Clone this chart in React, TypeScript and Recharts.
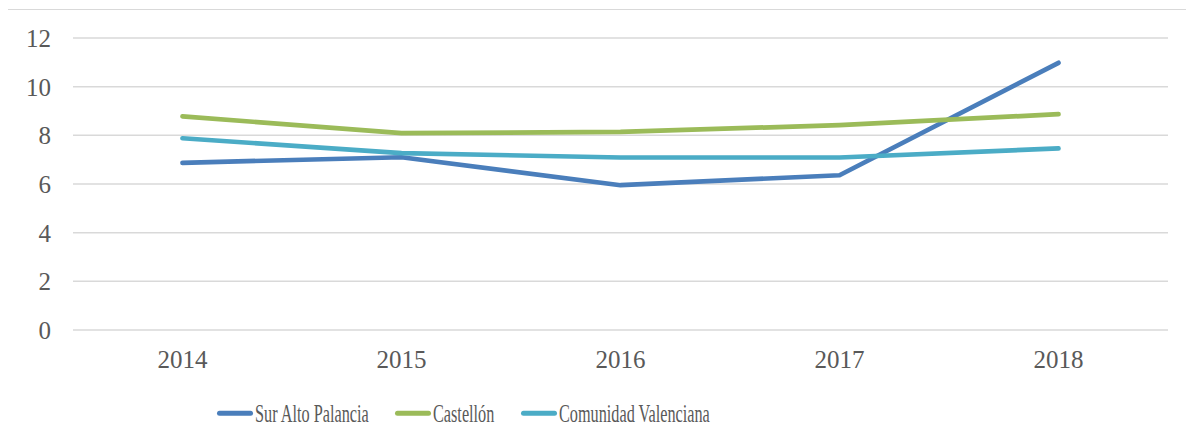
import React from 'react';
import { LineChart, Line, XAxis, YAxis, CartesianGrid, Legend } from 'recharts';

const years = ['2014', '2015', '2016', '2017', '2018'];
const surAltoPalancia = [6.87, 7.1, 5.95, 6.36, 10.98];
const castellon = [8.78, 8.09, 8.14, 8.42, 8.87];
const comunidadValenciana = [7.88, 7.27, 7.09, 7.09, 7.46];
const yTicks = [0, 2, 4, 6, 8, 10, 12];

const seriesNames = ['Sur Alto Palancia', 'Castellón', 'Comunidad Valenciana'];
const seriesKeys = ['sur', 'cas', 'com'];
const seriesColors = ['#4A7EBB', '#9BBB59', '#4BACC6'];

const data = years.map((y, i) => ({
  year: y,
  sur: surAltoPalancia[i],
  cas: castellon[i],
  com: comunidadValenciana[i],
}));

const legendX = [209, 387, 513];
const FONT = '"Liberation Serif", "DejaVu Serif", serif';
const TEXT = '#595959';

const LegendContent = () => (
  <svg width={1186} height={30} style={{ display: 'block' }}>
    {seriesNames.map((name, i) => (
      <g key={name}>
        <line
          x1={legendX[i] + 2.5}
          x2={legendX[i] + 33.5}
          y1={15.3}
          y2={15.3}
          stroke={seriesColors[i]}
          strokeWidth={5}
          strokeLinecap="round"
        />
        <text
          transform={`translate(${legendX[i] + 38}, 23.7) scale(0.65, 1)`}
          fontFamily={FONT}
          fontSize={25}
          fill={TEXT}
        >
          {name}
        </text>
      </g>
    ))}
  </svg>
);

export default function App() {
  return (
    <div
      style={{
        position: 'relative',
        left: -1,
        top: 1,
        width: 1187,
        height: 434,
        boxSizing: 'border-box',
        borderTop: '1px solid #d9d9d9',
        borderLeft: '1px solid #d9d9d9',
        background: '#fff',
        fontFamily: FONT,
      }}
    >
      <LineChart
        width={1186}
        height={433}
        data={data}
        margin={{ top: 28, right: 26, bottom: 15, left: 0 }}
        style={{ fontFamily: FONT }}
      >
        <CartesianGrid vertical={false} stroke="#d9d9d9" strokeWidth={1.5} />
        <XAxis
          dataKey="year"
          axisLine={false}
          tickLine={false}
          tickSize={0}
          tickMargin={20}
          height={68}
          padding={{ left: 109.5, right: 109.5 }}
          tick={{ fontFamily: FONT, fontSize: 25, fill: TEXT }}
        />
        <YAxis
          domain={[0, 12]}
          ticks={yTicks}
          axisLine={false}
          tickLine={false}
          tickSize={0}
          tickMargin={22}
          width={65}
          tick={{ fontFamily: FONT, fontSize: 25, fill: TEXT }}
        />
        <Legend
          verticalAlign="bottom"
          content={<LegendContent />}
          wrapperStyle={{ left: 0, bottom: 15, width: 1186, height: 30 }}
        />
        {seriesKeys.map((k, i) => (
          <Line
            key={k}
            type="linear"
            dataKey={k}
            name={seriesNames[i]}
            stroke={seriesColors[i]}
            strokeWidth={4.7}
            strokeLinecap="round"
            strokeLinejoin="round"
            dot={false}
            activeDot={false}
            isAnimationActive={false}
          />
        ))}
      </LineChart>
    </div>
  );
}
